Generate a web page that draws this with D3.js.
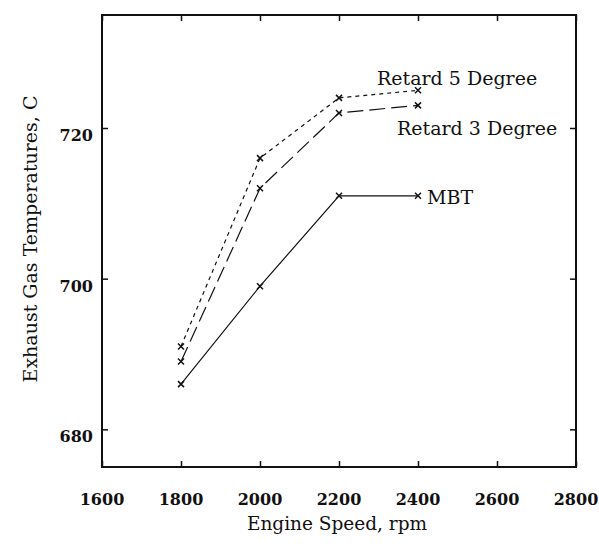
<!DOCTYPE html>
<html>
<head>
<meta charset="utf-8">
<script src="https://cdn.jsdelivr.net/npm/d3@7"></script>
<style>
  body { margin: 0; background: #fff; }
  svg text { font-family: "DejaVu Serif", serif; fill: #111; }
</style>
</head>
<body>
<svg id="chart" width="599" height="544"></svg>
<script>

// engine speed, rpm
var speeds = [1800, 2000, 2200, 2400];

// exhaust gas temperatures, C
var mbt = [686, 699, 711, 711];
var retard3 = [689, 712, 722, 723];
var retard5 = [691, 716, 724, 725];

var seriesNames = ['MBT', 'Retard 3 Degree', 'Retard 5 Degree'];

var xTicks = [1600, 1800, 2000, 2200, 2400, 2600, 2800];
var yTicks = [680, 700, 720];

var drawChart = function (id) {

	var svg = d3.select(id);

	var left = 102, right = 576, top = 15, bottom = 467;

	var x = d3.scaleLinear().domain([1600, 2800]).range([left, right]);
	var y = d3.scaleLinear().domain([675, 735]).range([bottom, top]);

	// inward ticks on all four sides
	var tl = 6;
	svg.append('g').attr('transform', 'translate(0,' + bottom + ')')
		.call(d3.axisBottom(x).tickValues(xTicks).tickSize(-tl).tickSizeOuter(0).tickFormat(''));
	svg.append('g').attr('transform', 'translate(0,' + top + ')')
		.call(d3.axisTop(x).tickValues(xTicks).tickSize(-tl).tickSizeOuter(0).tickFormat(''));
	svg.append('g').attr('transform', 'translate(' + left + ',0)')
		.call(d3.axisLeft(y).tickValues(yTicks).tickSize(-tl).tickSizeOuter(0).tickFormat(''));
	svg.append('g').attr('transform', 'translate(' + right + ',0)')
		.call(d3.axisRight(y).tickValues(yTicks).tickSize(-tl).tickSizeOuter(0).tickFormat(''));

	svg.selectAll('.domain').remove();
	svg.selectAll('.tick line').attr('stroke', '#111').attr('stroke-width', 1.5);

	svg.append('rect')
		.attr('x', left)
		.attr('y', top)
		.attr('width', right - left)
		.attr('height', bottom - top)
		.attr('fill', 'none')
		.attr('stroke', '#111')
		.attr('stroke-width', 2);

	// tick labels
	svg.selectAll('.xlab')
		.data(xTicks)
		.enter()
		.append('text')
		.attr('x', function (d) { return x(d); })
		.attr('y', 505)
		.attr('text-anchor', 'middle')
		.attr('font-size', 16)
		.attr('font-weight', 'bold')
		.text(function (d) { return d; });

	svg.selectAll('.ylab')
		.data(yTicks)
		.enter()
		.append('text')
		.attr('x', 93)
		.attr('y', function (d) { return y(d) + 13; })
		.attr('text-anchor', 'end')
		.attr('font-size', 16)
		.attr('font-weight', 'bold')
		.text(function (d) { return d; });

	// axis titles
	svg.append('text')
		.attr('x', 337)
		.attr('y', 530)
		.attr('text-anchor', 'middle')
		.attr('font-size', 18.5)
		.text('Engine Speed, rpm');

	svg.append('text')
		.attr('transform', 'translate(37,239) rotate(-90)')
		.attr('text-anchor', 'middle')
		.attr('font-size', 19)
		.text('Exhaust Gas Temperatures,  C');

	// lines
	var data = [mbt, retard3, retard5];
	var dashes = ['none', '16,6', '4,4'];

	var line = d3.line()
		.x(function (d, i) { return x(speeds[i]); })
		.y(function (d) { return y(d); });

	svg.selectAll('.series')
		.data(data)
		.enter()
		.append('path')
		.attr('d', function (d) { return line(d); })
		.attr('fill', 'none')
		.attr('stroke', '#111')
		.attr('stroke-width', 1.2)
		.attr('stroke-dasharray', function (d, i) { return dashes[i]; });

	// x markers
	var pts = [];
	data.forEach(function (s) {
		s.forEach(function (v, i) { pts.push({x: speeds[i], y: v}); });
	});

	var m = 3;
	svg.selectAll('.mark')
		.data(pts)
		.enter()
		.append('path')
		.attr('d', function (d) {
			var cx = x(d.x), cy = y(d.y);
			return 'M' + (cx - m) + ',' + (cy - m) + 'L' + (cx + m) + ',' + (cy + m) +
				'M' + (cx - m) + ',' + (cy + m) + 'L' + (cx + m) + ',' + (cy - m);
		})
		.attr('stroke', '#111')
		.attr('stroke-width', 1.5);

	// series labels next to the last points
	var last = speeds.length - 1;
	svg.append('text')
		.attr('x', x(speeds[last]) + 9)
		.attr('y', y(mbt[last]) + 8)
		.attr('font-size', 19)
		.text(seriesNames[0]);

	svg.append('text')
		.attr('x', x(speeds[last]) - 21)
		.attr('y', y(retard3[last]) + 30)
		.attr('font-size', 19)
		.text(seriesNames[1]);

	svg.append('text')
		.attr('x', x(speeds[last]) - 41)
		.attr('y', y(retard5[last]) - 5)
		.attr('font-size', 19)
		.text(seriesNames[2]);
}

window.onload = function () {
	drawChart('#chart');
}
</script>
</body>
</html>
